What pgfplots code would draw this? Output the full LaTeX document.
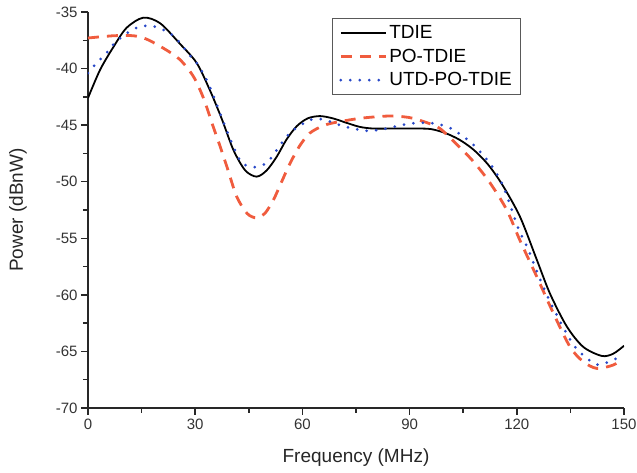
\documentclass[border=0pt]{standalone}
\usepackage{fontspec}
\setmainfont{Liberation Sans}
\usepackage{pgfplots}
\pgfplotsset{compat=1.18}
\usetikzlibrary{calc}
\definecolor{poRed}{RGB}{240,92,62}
\definecolor{utdBlue}{RGB}{40,72,200}
\definecolor{axgray}{RGB}{40,40,40}

\begin{document}
\begin{tikzpicture}
\begin{axis}[
    name=ax,
    width=536pt, height=396pt, scale only axis,
    xmin=0, xmax=150, ymin=-70, ymax=-35,
    axis x line*=bottom, axis y line*=left,
    xtick={0,30,...,150}, ytick={-70,-65,...,-35},
    minor x tick num=1, minor y tick num=1,
    tick align=outside,
    major tick length=7pt, minor tick length=5pt,
    every tick/.style={line width=1.5pt, axgray},
    axis line style={line width=1.5pt, axgray},
    /pgf/number format/assume math mode=true,
    ticklabel style={font=\fontsize{15}{18}\selectfont, color=black!80},
    xlabel={Frequency (MHz)}, ylabel={Power (dBnW)},
    label style={font=\fontsize{19}{22}\selectfont, color=black!85},
    xlabel style={at={(axis description cs:0.5,-0.1263)}, anchor=center},
    ylabel style={at={(axis description cs:-0.1306,0.5)}, anchor=center},
    legend style={at={(axis description cs:0.455,0.985)}, anchor=north west,
        draw=black!65, line width=0.8pt, font=\fontsize{19}{22}\selectfont,
        inner xsep=7pt, inner ysep=5pt, row sep=5pt, cells={anchor=west}},
    legend image code/.code={\draw[#1] (0pt,0pt) -- (45pt,0pt);},
]
\addplot[smooth, black, line width=1.8pt] coordinates {
    (0,-42.6) (3.4,-40.1) (7.1,-38.1) (10.8,-36.4) (15.5,-35.5) (20.2,-36.0)
    (25.7,-37.8) (30.4,-39.5) (34.1,-41.9) (37.5,-44.5) (40.7,-47.2) (44,-49.0)
    (47.2,-49.55) (50,-49.0) (52.8,-47.8) (55.5,-46.3) (58.4,-45.1) (61.5,-44.4)
    (64.9,-44.2) (68.5,-44.4) (72.4,-44.8) (76,-45.15) (79.8,-45.3) (86,-45.3)
    (92,-45.3) (96,-45.35) (100,-45.7) (104,-46.3) (108,-47.2) (112,-48.5)
    (116,-50.3) (120.9,-53.1) (125.6,-56.9) (129.3,-59.9) (134,-62.8)
    (138.6,-64.6) (143.8,-65.4) (147,-65.2) (150,-64.5)
};
\addlegendentry{TDIE}
\addplot[smooth, poRed, line width=2.8pt, dash pattern=on 11pt off 8pt] coordinates {
    (0,-37.3) (7.1,-37.1) (12.7,-37.1) (16.4,-37.4) (21.1,-38.2) (25.7,-39.2)
    (29.5,-40.7) (32.3,-42.6) (35,-45.1) (37,-46.9) (39,-48.8) (41.6,-51.3)
    (44.5,-52.8) (47.2,-53.2) (49.5,-52.8) (51.9,-51.6) (54.2,-50.0) (56.5,-48.4)
    (59.3,-46.8) (62.1,-45.7) (65.5,-45.1) (68.6,-44.8) (76.1,-44.4) (83.6,-44.2)
    (88,-44.25) (91,-44.4) (95,-44.8) (98.5,-45.3) (103.2,-46.7) (107.8,-48.2)
    (112.5,-50.1) (117.2,-52.5) (120.9,-55.2) (125.6,-58.4) (130.2,-61.6)
    (134.9,-64.6) (138.6,-65.9) (142.4,-66.5) (147,-66.2) (149.5,-65.7)
};
\addlegendentry{PO-TDIE}
\addplot[smooth, utdBlue, line width=3pt, line cap=round, dash pattern=on 0pt off 9.5pt] coordinates {
    (0,-40.4) (2.4,-39.5) (5,-38.7) (7.6,-37.7) (10.8,-36.9) (13.6,-36.4)
    (16.9,-36.2) (19.7,-36.4) (23,-36.9) (25.7,-37.7) (28.1,-38.7) (30.4,-39.5)
    (32.7,-40.7) (35.1,-42.4) (38.5,-45.2) (42.5,-48.1) (45.8,-48.7) (49.1,-48.5)
    (51.5,-47.8) (53.7,-46.8) (56.5,-45.7) (59.5,-45.0) (62.6,-44.5) (65.9,-44.5)
    (71.5,-45.1) (78,-45.5) (83.6,-45.3) (89.2,-44.9) (95.7,-44.8) (101.3,-45.25)
    (107.4,-46.6) (112.5,-48.4) (116.2,-50.4) (120.4,-54.1) (123.2,-56.0)
    (127,-59.0) (131.2,-61.8) (136.3,-64.6) (141.9,-66.1) (145,-66.0) (149.5,-65.4)
};
\addlegendentry{UTD-PO-TDIE}
\end{axis}
\pgfresetboundingbox
\path ($(ax.south west)+(-88pt,-65pt)$) rectangle ($(ax.north east)+(13pt,12pt)$);
\end{tikzpicture}
\end{document}
